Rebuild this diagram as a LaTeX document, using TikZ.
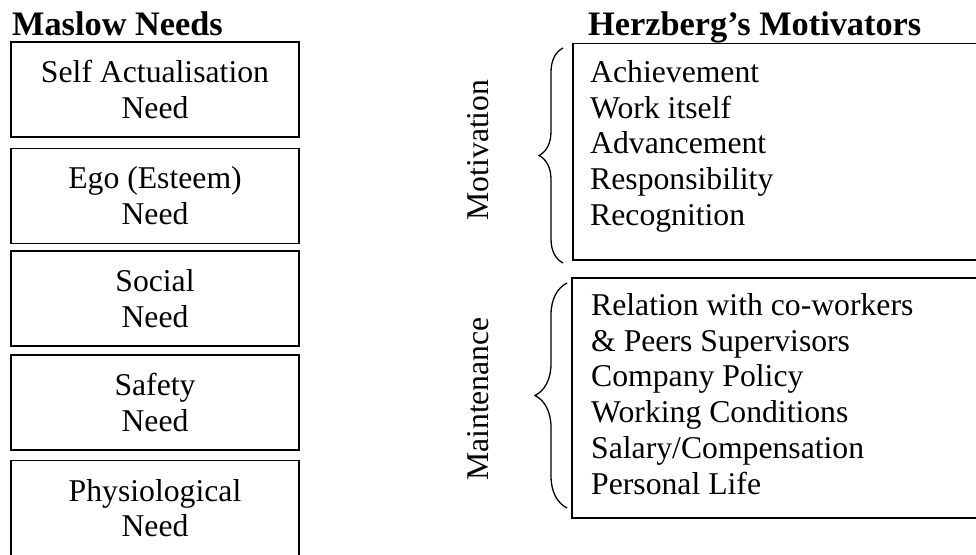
\documentclass[tikz,border=0pt]{standalone}
\usepackage{fontspec}
\setmainfont{Liberation Serif}
\usetikzlibrary{decorations.pathreplacing}
\begin{document}
\begin{tikzpicture}[x=1pt,y=-1pt,
  body/.style={font=\fontsize{31.7}{35.7}\selectfont},
  head/.style={font=\fontsize{34.3}{38}\selectfont\bfseries, inner sep=0, anchor=base west},
  mbox/.style={draw, line width=1.8pt, minimum width=288pt, minimum height=95pt, inner sep=0, align=center, body},
  hbox/.style={draw, line width=1.8pt, anchor=north west, inner sep=0, minimum width=430pt},
  hlist/.style={body, align=left, inner sep=0, anchor=north west},
  br/.style={decorate, decoration={brace, amplitude=#1}, line width=1.3pt},
  side/.style={body, rotate=90, inner sep=0}]
\useasboundingbox (0,0) rectangle (976,554);
\clip (0,0) rectangle (976,554);
\node[head] (mh) at (12,35) {Maslow Needs};
\node[head] (hh) at (588,35) {Herzberg’s Motivators};
\node[mbox] (m1) at (155,89.5) {Self Actualisation\\Need};
\node[mbox] (m2) at (155,196) {Ego (Esteem)\\Need};
\node[mbox] (m3) at (155,298.5) {Social\\Need};
\node[mbox] (m4) at (155,402.5) {Safety\\Need};
\node[mbox] (m5) at (155,508) {Physiological\\Need};
\node[hbox, minimum height=216.5pt] (mot) at (572,42.5) {};
\node[hbox, minimum height=240pt] (mnt) at (571,277) {};
\node[hlist] (motl) at (590,60.3) {Achievement\\Work itself\\Advancement\\Responsibility\\Recognition};
\node[hlist] (mntl) at (591,293.3) {Relation with co-workers\\\& Peers Supervisors\\Company Policy\\Working Conditions\\Salary/Compensation\\Personal Life};
\coordinate (b1a) at (563,263);
\coordinate (b1b) at (563,48);
\coordinate (b2a) at (567,508);
\coordinate (b2b) at (567,283);
\draw[br=24] (b1a) -- (b1b);
\draw[br=32] (b2a) -- (b2b);
\node[side] (mv) at (478,150) {Motivation};
\node[side] (mn) at (478,399) {Maintenance};
\end{tikzpicture}
\end{document}
